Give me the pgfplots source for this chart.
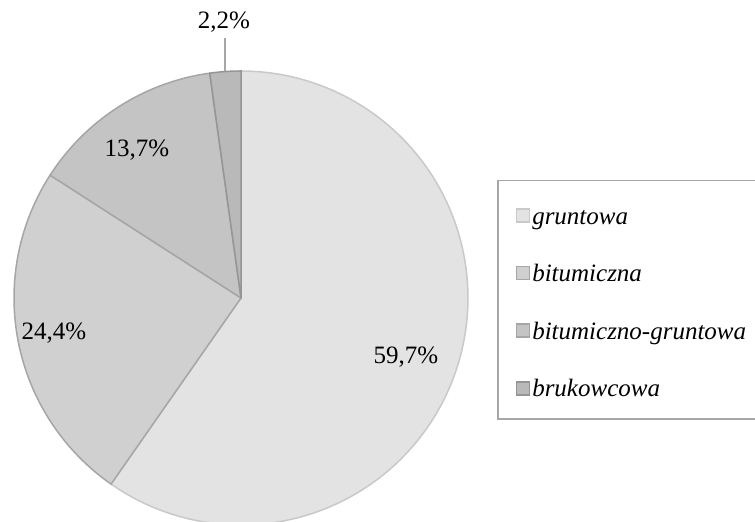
\documentclass[border=0pt]{standalone}
\usepackage{pgfplots}
\pgfplotsset{compat=1.18}
\usepackage{fontspec}
\setmainfont{Liberation Serif}

\definecolor{cA}{HTML}{E3E3E3}
\definecolor{cB}{HTML}{D0D0D0}
\definecolor{cC}{HTML}{C4C4C4}
\definecolor{cD}{HTML}{B9B9B9}
\definecolor{eA}{HTML}{C9C9C9}
\definecolor{eX}{HTML}{A6A6A6}

% udzial typow nawierzchni (%)
\def\pA{59.7}
\def\pB{24.4}
\def\pC{13.7}
\def\pD{2.2}

\begin{document}
\begin{tikzpicture}
\useasboundingbox (0,0) rectangle (377.5pt,261pt);
\clip (0,0) rectangle (377.5pt,261pt);
\pgfmathsetmacro\aA{90-3.6*\pA}
\pgfmathsetmacro\aB{\aA-3.6*\pB}
\pgfmathsetmacro\aC{\aB-3.6*\pC}
\pgfmathsetmacro\aD{\aC-3.6*\pD}
\begin{axis}[
    scale only axis,
    width=377.5pt, height=261pt,
    xmin=0, xmax=755, ymin=0, ymax=522,
    hide axis, clip=false,
    samples=90,
    font=\fontsize{12.5}{14}\selectfont,
    legend image code/.code={
        \path[draw=none, fill=none] (0pt,-4.5pt) -- (0pt,4.5pt);
        \draw[#1] (0pt,-4.25pt) rectangle (6.5pt,2.25pt);},
    legend cell align=left,
    legend style={at={(axis cs:497,342)}, anchor=north west,
        draw=eX, line width=0.75pt, inner xsep=9pt, inner ysep=2pt,
        text width=130pt,
        font=\fontsize{12.5}{14}\selectfont\itshape,
        nodes={minimum height=28.8pt, inner xsep=1pt, text height=10.5pt, text depth=0pt},
        /tikz/every odd column/.append style={text width=6.5pt}},
]
\addplot[fill=cA, draw=eA, line width=0.75pt, domain=\aA:90]
    ({241+227*cos(x)},{224+227*sin(x)}) -- (axis cs:241,224) -- cycle;
\addlegendentry{gruntowa}
\addplot[fill=cB, draw=eX, line width=0.75pt, domain=\aB:\aA]
    ({241+227*cos(x)},{224+227*sin(x)}) -- (axis cs:241,224) -- cycle;
\addlegendentry{bitumiczna}
\addplot[fill=cC, draw=eX, line width=0.75pt, domain=\aC:\aB]
    ({241+227*cos(x)},{224+227*sin(x)}) -- (axis cs:241,224) -- cycle;
\addlegendentry{bitumiczno-gruntowa}
\addplot[fill=cD, draw=eX!90!black, line width=0.75pt, domain=\aD:\aC]
    ({241+227*cos(x)},{224+227*sin(x)}) -- (axis cs:241,224) -- cycle;
\addlegendentry{brukowcowa}

\addplot[eX, line width=0.75pt, forget plot] coordinates {(225,484) (225,451)};

\node at (axis cs:224,500) {2,2\%};
\node at (axis cs:137,372) {13,7\%};
\node at (axis cs:54,189) {24,4\%};
\node at (axis cs:406,165) {59,7\%};
\end{axis}
\end{tikzpicture}
\end{document}
